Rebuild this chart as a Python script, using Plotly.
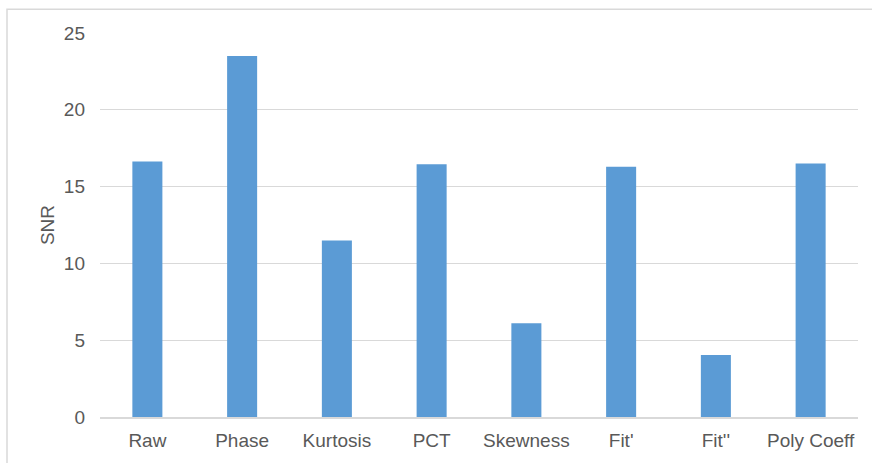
import plotly.graph_objects as go

categories = ["Raw", "Phase", "Kurtosis", "PCT", "Skewness", "Fit'", "Fit''", "Poly Coeff"]
snr_values = [16.63, 23.50, 11.49, 16.45, 6.11, 16.30, 4.04, 16.50]
y_ticks = [0, 5, 10, 15, 20, 25]

W, H = 872, 463
L, R, T, B = 100, 14, 33, 43.5
pw, ph = W - L - R, H - T - B

fig = go.Figure(go.Bar(x=categories, y=snr_values, marker=dict(color="#5B9BD5", line=dict(width=0))))

font = dict(family="Liberation Sans, Arial, sans-serif", size=19, color="#595959")
fig.update_layout(
    width=W, height=H,
    margin=dict(l=L, r=R, t=T, b=B, pad=0),
    paper_bgcolor="white", plot_bgcolor="white",
    bargap=0.683,
    font=font,
    showlegend=False,
    xaxis=dict(showgrid=False, showline=True, linecolor="#D9D9D9", linewidth=1.5,
               ticks="", tickfont=dict(size=19, color="#595959"), ticklabelstandoff=5),
    yaxis=dict(range=[0, 25], tickvals=y_ticks, showgrid=True, gridcolor="#D9D9D9", gridwidth=1.2,
               zeroline=False, showline=False, ticks="", tickfont=dict(size=19, color="#595959"),
               ticklabelstandoff=14,
               title=dict(text="SNR", font=dict(size=19, color="#595959"), standoff=4)),
    shapes=[dict(type="rect", xref="paper", yref="paper",
                 x0=(7 - L) / pw, x1=(W + 20 - L) / pw,
                 y0=-(H + 20 - (H - B)) / ph, y1=((H - B) - 9) / ph,
                 line=dict(color="#D9D9D9", width=1.5), fillcolor="rgba(0,0,0,0)", layer="below")],
)

fig.write_html("out.html", config={"displayModeBar": False},
               post_script="document.body.style.margin='0';document.body.style.overflow='hidden';")
